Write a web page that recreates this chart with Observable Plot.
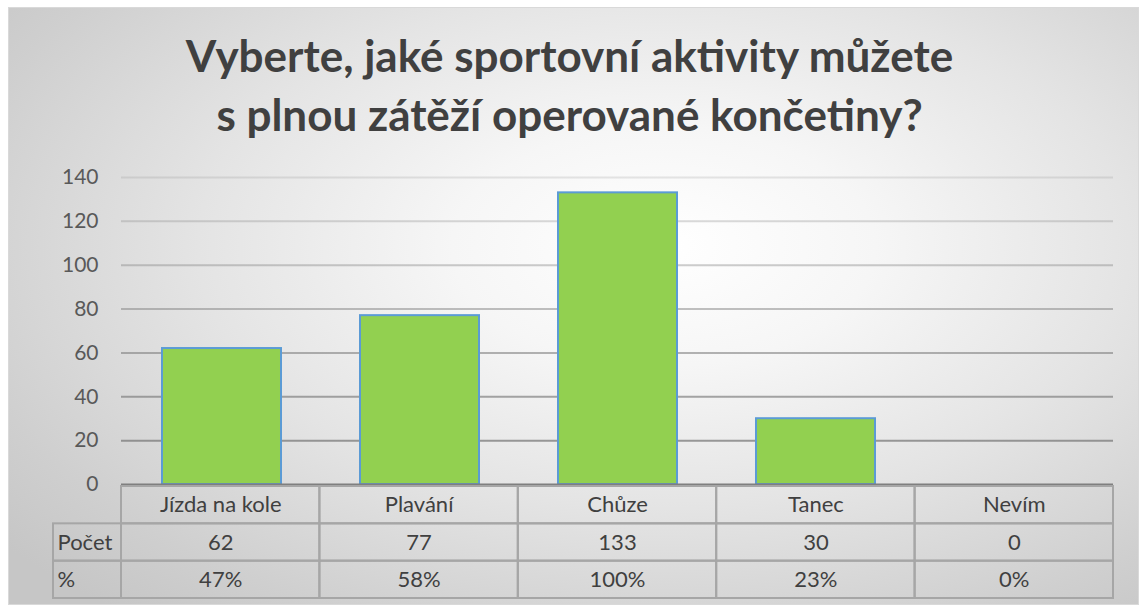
<!DOCTYPE html>
<html><head><meta charset="utf-8">
<script src="https://cdn.jsdelivr.net/npm/d3@7"></script>
<script src="https://cdn.jsdelivr.net/npm/@observablehq/plot@0.6"></script>
<style>
body{margin:0;background:#fff;width:1139px;height:608px;overflow:hidden;position:relative;}
#frame{position:absolute;left:8px;top:7px;width:1131px;height:598px;box-sizing:border-box;border:1px solid #d9d9d9;
 background:radial-gradient(ellipse 75% 80% at 58% 40%, #ffffff 0%, #f6f6f6 25%, #e4e4e4 55%, #cfcfcf 85%, #c6c6c6 100%);}
#title{position:absolute;left:0;top:26px;width:1139px;text-align:center;font-family:Lato,sans-serif;font-weight:bold;font-size:44px;line-height:59px;color:#404040;}
#chart{position:absolute;left:0;top:150px;}
#table{position:absolute;left:0;top:480px;}
</style></head>
<body>
<div id="frame"></div>
<div id="title">Vyberte, jaké sportovní aktivity můžete<br>s plnou zátěží operované končetiny?</div>
<div id="chart"></div>
<div id="table"></div>
<script>
const categories = ["Jízda na kole", "Plavání", "Chůze", "Tanec", "Nevím"];
const counts = [62, 77, 133, 30, 0];
const percents = [47, 58, 100, 23, 0];
const yTicks = [0, 20, 40, 60, 80, 100, 120, 140];
const rowLabels = ["Počet", "%"];

const data = categories.map((c, i) => ({category: c, count: counts[i]}));

const chart = Plot.plot({
  width: 1139, height: 340,
  marginTop: 27, marginBottom: 6, marginLeft: 121, marginRight: 26,
  style: {background: "transparent", fontFamily: "Lato, sans-serif", fontSize: "21px", color: "#595959", overflow: "visible"},
  x: {domain: categories, paddingInner: 0.4, paddingOuter: 0.2, axis: null},
  y: {domain: [0, 140], axis: null},
  marks: [
    Plot.ruleY(yTicks.filter(t => t > 0), {stroke: "#7a7a7a", strokeWidth: 2, strokeOpacity: d => 0.18 + 0.67 * (1 - d / 140)}),
    Plot.barY(data, {x: "category", y: "count", fill: "#92D050", stroke: "#5B9BD5", strokeWidth: 2}),
    Plot.ruleY([0], {stroke: "#7f7f7f", strokeWidth: 2}),
    Plot.axisY({ticks: yTicks, tickSize: 0, tickPadding: 23, fill: "#595959", fontSize: 21, label: null})
  ]
});
document.getElementById("chart").appendChild(chart);

const labelColWidth = 68 / 198.4;
const cells = [];
categories.forEach((c, i) => {
  cells.push({x1: i, x2: i + 1, row: 0, text: c});
  cells.push({x1: i, x2: i + 1, row: 1, text: String(counts[i])});
  cells.push({x1: i, x2: i + 1, row: 2, text: percents[i] + "%"});
});
rowLabels.forEach((l, j) => cells.push({x1: -labelColWidth, x2: 0, row: j + 1, text: l, left: true}));

const table = Plot.plot({
  width: 1139, height: 125,
  marginTop: 6, marginBottom: 7, marginLeft: 53, marginRight: 26,
  style: {background: "transparent", fontFamily: "Lato, sans-serif", fontSize: "22px", color: "#404040", overflow: "visible"},
  x: {domain: [-labelColWidth, categories.length], axis: null},
  y: {domain: [3, 0], axis: null},
  marks: [
    Plot.rect(cells, {x1: "x1", x2: "x2", y1: "row", y2: d => d.row + 1, fill: "none", stroke: "#a6a6a6", strokeWidth: 2}),
    Plot.text(cells.filter(d => !d.left), {x: d => (d.x1 + d.x2) / 2, y: d => d.row + 0.5, text: "text", fontSize: 22, fill: "#404040"}),
    Plot.text(cells.filter(d => d.left), {x: "x1", y: d => d.row + 0.5, text: "text", textAnchor: "start", dx: 4, fontSize: 22, fill: "#404040"})
  ]
});
document.getElementById("table").appendChild(table);
</script>
</body></html>
